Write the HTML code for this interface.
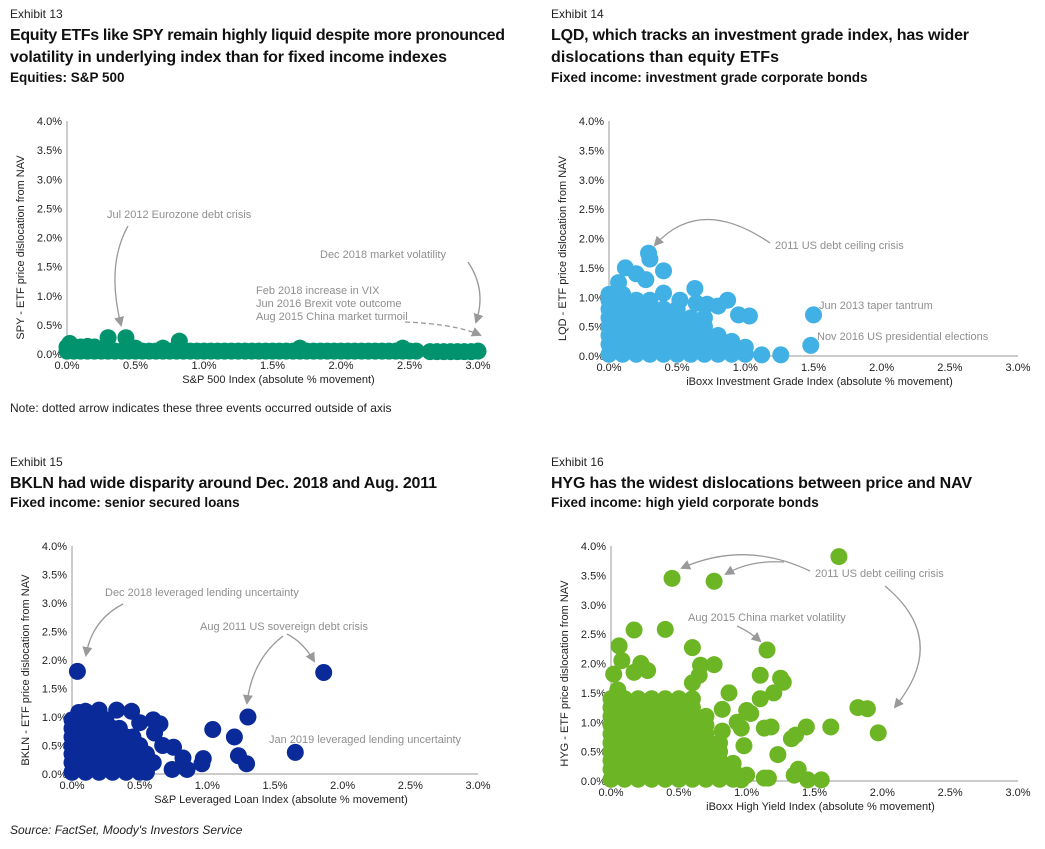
<!DOCTYPE html>
<html><head><meta charset="utf-8"><style>
body{margin:0;background:#fff;}
svg{display:block;font-family:"Liberation Sans",sans-serif;}
.ex{font-size:12px;fill:#222;}
.tt{font-size:16px;font-weight:bold;fill:#111;}
.st{font-size:13.5px;font-weight:bold;fill:#111;}
.tk{font-size:11px;fill:#222;}
.at{font-size:11px;fill:#222;}
.an{font-size:11px;fill:#8f8f8f;}
.ar{fill:none;stroke:#999;stroke-width:1.3;}
</style></head><body>
<svg id="s" width="1045" height="849" viewBox="0 0 1045 849">
<defs><marker id="ah" markerWidth="10" markerHeight="10" refX="8" refY="5" orient="auto" markerUnits="userSpaceOnUse"><path d="M0,0 L10,5 L0,10 z" fill="#999"/></marker></defs>
<g>
<text class="ex" x="10" y="18">Exhibit 13</text>
<text class="tt" x="10" y="40" textLength="495">Equity ETFs like SPY remain highly liquid despite more pronounced</text>
<text class="tt" x="10" y="62" textLength="437">volatility in underlying index than for fixed income indexes</text>
<text class="st" x="10" y="82">Equities: S&amp;P 500</text></g>
<g>
<text class="ex" x="551" y="18">Exhibit 14</text>
<text class="tt" x="551" y="40" textLength="418">LQD, which tracks an investment grade index, has wider</text>
<text class="tt" x="551" y="62" textLength="228">dislocations than equity ETFs</text>
<text class="st" x="551" y="82">Fixed income: investment grade corporate bonds</text></g>
<g>
<text class="ex" x="10" y="466">Exhibit 15</text>
<text class="tt" x="10" y="488" textLength="427">BKLN had wide disparity around Dec. 2018 and Aug. 2011</text>
<text class="st" x="10" y="507">Fixed income: senior secured loans</text></g>
<g>
<text class="ex" x="551" y="466">Exhibit 16</text>
<text class="tt" x="551" y="488" textLength="421">HYG has the widest dislocations between price and NAV</text>
<text class="st" x="551" y="507">Fixed income: high yield corporate bonds</text></g>
<text x="10" y="412" font-size="12" fill="#222">Note: dotted arrow indicates these three events occurred outside of axis</text>
<text x="10" y="834" font-size="12" font-style="italic" fill="#222">Source: FactSet, Moody's Investors Service</text>
<g id="c1"></g>
<g id="c2"></g>
<g id="c3"></g>
<g id="c4"></g>
<g>
<text class="an" x="107" y="218">Jul 2012 Eurozone debt crisis</text>
<path class="ar" d="M128,226 Q106,265 121,325" marker-end="url(#ah)"/>
<text class="an" x="320" y="258">Dec 2018 market volatility</text>
<path class="ar" d="M468,262 Q487,290 476,322" marker-end="url(#ah)"/>
<text class="an" x="256" y="294">Feb 2018 increase in VIX</text>
<text class="an" x="256" y="307">Jun 2016 Brexit vote outcome</text>
<text class="an" x="256" y="320">Aug 2015 China market turmoil</text>
<path class="ar" d="M405,322 Q455,324 480,335" stroke-dasharray="5,3" marker-end="url(#ah)"/>
<text class="an" x="775" y="249">2011 US debt ceiling crisis</text>
<path class="ar" d="M770,243 Q700,195 655,245" marker-end="url(#ah)"/>
<text class="an" x="819" y="309">Jun 2013 taper tantrum</text>
<text class="an" x="817" y="340">Nov 2016 US presidential elections</text>
<text class="an" x="105" y="596">Dec 2018 leveraged lending uncertainty</text>
<path class="ar" d="M123,604 Q92,620 86,655" marker-end="url(#ah)"/>
<text class="an" x="200" y="630">Aug 2011 US sovereign debt crisis</text>
<path class="ar" d="M283,636 Q252,660 247,703" marker-end="url(#ah)"/>
<path class="ar" d="M287,634 Q303,642 314,661" marker-end="url(#ah)"/>
<text class="an" x="269" y="743">Jan 2019 leveraged lending uncertainty</text>
<text class="an" x="815" y="577">2011 US debt ceiling crisis</text>
<path class="ar" d="M810,571 Q745,540 682,568" marker-end="url(#ah)"/>
<path class="ar" d="M784,562 Q750,560 726,574" marker-end="url(#ah)"/>
<path class="ar" d="M885,586 Q950,640 895,707" marker-end="url(#ah)"/>
<text class="an" x="688" y="621">Aug 2015 China market volatility</text>
<path class="ar" d="M737,626 Q750,632 760,641" marker-end="url(#ah)"/>
</g>
</svg>
<script>
const xTicks=["0.0%","0.5%","1.0%","1.5%","2.0%","2.5%","3.0%"];
const yTicks=["0.0%","0.5%","1.0%","1.5%","2.0%","2.5%","3.0%","3.5%","4.0%"];
const spyX=[0,0.05,0.1,0.15,0.2,0.25,0.3,0.35,0.4,0.45,0.5,0.55,0.6,0.65,0.7,0.75,0.8,0.85,0.9,0.95,1.0,1.05,1.1,1.15,1.2,1.25,1.3,1.35,1.4,1.45,1.5,1.55,1.6,1.65,1.7,1.75,1.8,1.85,1.9,1.95,2.0,2.05,2.1,2.15,2.2,2.25,2.3,2.35,2.4,2.45,2.5,2.55,2.65,2.7,2.75,2.8,2.85,2.9,2.95,3.0,0,0.1,0.2,0.3,0.43,0.82,0.02,0.15,0.5,0.7,1.7,2.45];
const spyY=[0.05,0.05,0.05,0.05,0.05,0.05,0.05,0.05,0.05,0.05,0.05,0.05,0.05,0.05,0.05,0.05,0.05,0.05,0.05,0.05,0.05,0.05,0.05,0.05,0.05,0.05,0.05,0.05,0.05,0.05,0.05,0.05,0.05,0.05,0.05,0.05,0.05,0.05,0.05,0.05,0.05,0.05,0.05,0.05,0.05,0.05,0.05,0.05,0.05,0.05,0.05,0.05,0.04,0.04,0.04,0.04,0.04,0.04,0.04,0.05,0.12,0.12,0.12,0.28,0.28,0.22,0.18,0.13,0.1,0.1,0.1,0.1];
const lqdX=[0,0.1,0.2,0.3,0.4,0.5,0.6,0.7,0.8,0.9,1.0,0,0.1,0.2,0.3,0.4,0.5,0.6,0.7,0.8,0.9,0,0.1,0.2,0.3,0.4,0.5,0.6,0.7,0.8,0,0.1,0.2,0.3,0.4,0.5,0.6,0.7,0,0.1,0.2,0.3,0.4,0.5,0.6,0,0.1,0.2,0.3,0.4,0.5,0,0.1,0.2,0.3,0,0.1,0.29,0.3,0.4,0.12,0.2,0.27,0.07,0.4,0.63,0.52,0.64,0.72,0.87,0.8,0.95,1.03,1.5,1.48,0.7,0.9,1.0,1.12,1.26,0.99];
const lqdY=[0.03,0.03,0.03,0.03,0.03,0.03,0.03,0.03,0.03,0.03,0.03,0.2,0.2,0.2,0.2,0.2,0.2,0.2,0.2,0.2,0.2,0.35,0.35,0.35,0.35,0.35,0.35,0.35,0.35,0.35,0.5,0.5,0.5,0.5,0.5,0.5,0.5,0.5,0.65,0.65,0.65,0.65,0.65,0.65,0.65,0.8,0.8,0.8,0.8,0.8,0.8,0.95,0.95,0.95,0.95,1.05,1.05,1.75,1.65,1.45,1.5,1.4,1.3,1.25,1.07,1.15,0.95,0.9,0.88,0.95,0.85,0.7,0.68,0.7,0.18,0.65,0.25,0.15,0.02,0.02,0.05];
const bklnX=[0,0.1,0.2,0.3,0.4,0.5,0.55,0,0.1,0.2,0.3,0.4,0.5,0.6,0,0.1,0.2,0.3,0.4,0.5,0.55,0,0.1,0.2,0.3,0.4,0.5,0,0.1,0.2,0.3,0.4,0.45,0,0.1,0.2,0.3,0.35,0,0.1,0.2,0.25,0.05,0.1,0.2,0.74,0.85,0.04,1.86,1.3,1.04,1.2,1.65,1.23,1.29,0.97,0.96,0.82,0.67,0.75,0.6,0.65,0.61,0.33,0.44,0.5,0.45];
const bklnY=[0.03,0.03,0.03,0.03,0.03,0.03,0.03,0.2,0.2,0.2,0.2,0.2,0.2,0.2,0.35,0.35,0.35,0.35,0.35,0.35,0.35,0.5,0.5,0.5,0.5,0.5,0.5,0.65,0.65,0.65,0.65,0.65,0.65,0.8,0.8,0.8,0.8,0.8,0.95,0.95,0.95,0.95,1.08,1.1,1.12,0.08,0.08,1.8,1.78,1.0,0.78,0.65,0.38,0.32,0.18,0.27,0.18,0.28,0.5,0.47,0.95,0.88,0.72,1.12,1.1,0.9,0.6];
const hygX=[0,0.1,0.2,0.3,0.4,0.5,0.6,0.7,0.8,0.9,0,0.1,0.2,0.3,0.4,0.5,0.6,0.7,0.8,0.9,0,0.1,0.2,0.3,0.4,0.5,0.6,0.7,0.8,0,0.1,0.2,0.3,0.4,0.5,0.6,0.7,0.8,0,0.1,0.2,0.3,0.4,0.5,0.6,0.7,0.8,0,0.1,0.2,0.3,0.4,0.5,0.6,0.7,0,0.1,0.2,0.3,0.4,0.5,0.6,0.7,0,0.1,0.2,0.3,0.4,0.5,0.6,0.7,0,0.1,0.2,0.3,0.4,0.5,0.6,0,0.1,0.2,0.3,0.4,0.5,0.6,1.68,0.45,0.76,0.17,0.4,0.06,0.6,1.15,0.08,0.22,0.27,0.17,0.02,0.66,0.76,0.65,0.6,1.1,1.25,1.27,0.87,1.2,1.1,0.05,1.82,1.89,1.97,1.62,1.44,1.36,1.33,1.13,1.18,1.0,1.03,0.93,0.82,0.98,1.23,1.0,1.16,1.13,1.35,1.38,1.45,1.55,0.96,0.9,0.82,0.96];
const hygY=[0.03,0.03,0.03,0.03,0.03,0.03,0.03,0.03,0.03,0.03,0.2,0.2,0.2,0.2,0.2,0.2,0.2,0.2,0.2,0.2,0.35,0.35,0.35,0.35,0.35,0.35,0.35,0.35,0.35,0.5,0.5,0.5,0.5,0.5,0.5,0.5,0.5,0.5,0.65,0.65,0.65,0.65,0.65,0.65,0.65,0.65,0.65,0.8,0.8,0.8,0.8,0.8,0.8,0.8,0.8,0.95,0.95,0.95,0.95,0.95,0.95,0.95,0.95,1.1,1.1,1.1,1.1,1.1,1.1,1.1,1.1,1.25,1.25,1.25,1.25,1.25,1.25,1.25,1.4,1.4,1.4,1.4,1.4,1.4,1.4,3.82,3.45,3.4,2.57,2.58,2.3,2.27,2.23,2.05,2.0,1.88,1.85,1.82,1.97,1.98,1.8,1.67,1.8,1.75,1.68,1.5,1.5,1.4,1.55,1.25,1.23,0.82,0.92,0.92,0.78,0.72,0.9,0.92,1.2,1.15,1.0,0.85,0.6,0.45,0.1,0.05,0.05,0.1,0.2,0.02,0.02,0.02,0.3,1.22,0.9];
const NS="http://www.w3.org/2000/svg";
function mk(p,tag,at){const e=document.createElementNS(NS,tag);for(const k in at)e.setAttribute(k,at[k]);p.appendChild(e);return e;}
function chart(id,box,xs,ys,color,ytitle,xtitle,prefix){
  const g=document.getElementById(id);
  const sx=v=>box.x0+(box.x3-box.x0)*v/3;
  const sy=v=>box.y0-(box.y0-box.y4)*v/4;
  const ax=mk(g,'path',{d:`M${box.x0},${box.y4} V${box.y0} H${box.x3}`,stroke:'#999',fill:'none','stroke-width':1});
  
  
  yTicks.forEach((t,i)=>{const e=mk(g,'text',{class:'tk',x:box.x0-5,y:sy(i*0.5)+4,'text-anchor':'end'});e.textContent=t;
    
    });
  xTicks.forEach((t,i)=>{const e=mk(g,'text',{class:'tk',x:sx(i*0.5),y:box.y0+15,'text-anchor':'middle'});e.textContent=t;
    
    });
  const yt=mk(g,'text',{class:'at',transform:`translate(${box.x0-43},${(box.y0+box.y4)/2+10}) rotate(-90)`,'text-anchor':'middle'});yt.textContent=ytitle;
  
  
  const xt=mk(g,'text',{class:'at',x:(box.x0+box.x3)/2+6,y:box.y0+29,'text-anchor':'middle'});xt.textContent=xtitle;
  
  
  xs.forEach((v,i)=>{const c=mk(g,'circle',{cx:sx(v),cy:sy(ys[i]),r:8.5,fill:color});
    
    });
}
chart('c1',{x0:67,x3:478,y0:354,y4:121},spyX,spyY,'#00936e','SPY - ETF price dislocation from NAV','S&P 500 Index (absolute % movement)','spy');
chart('c2',{x0:609,x3:1018,y0:356,y4:121},lqdX,lqdY,'#41b0e4','LQD - ETF price dislocation from NAV','iBoxx Investment Grade Index (absolute % movement)','lqd');
chart('c3',{x0:72,x3:478,y0:774,y4:546},bklnX,bklnY,'#0a2a99','BKLN - ETF price dislocation from NAV','S&P Leveraged Loan Index (absolute % movement)','bkln');
chart('c4',{x0:611,x3:1018,y0:781,y4:546},hygX,hygY,'#6cb524','HYG - ETF price dislocation from NAV','iBoxx High Yield Index (absolute % movement)','hyg');
</script>
</body></html>
